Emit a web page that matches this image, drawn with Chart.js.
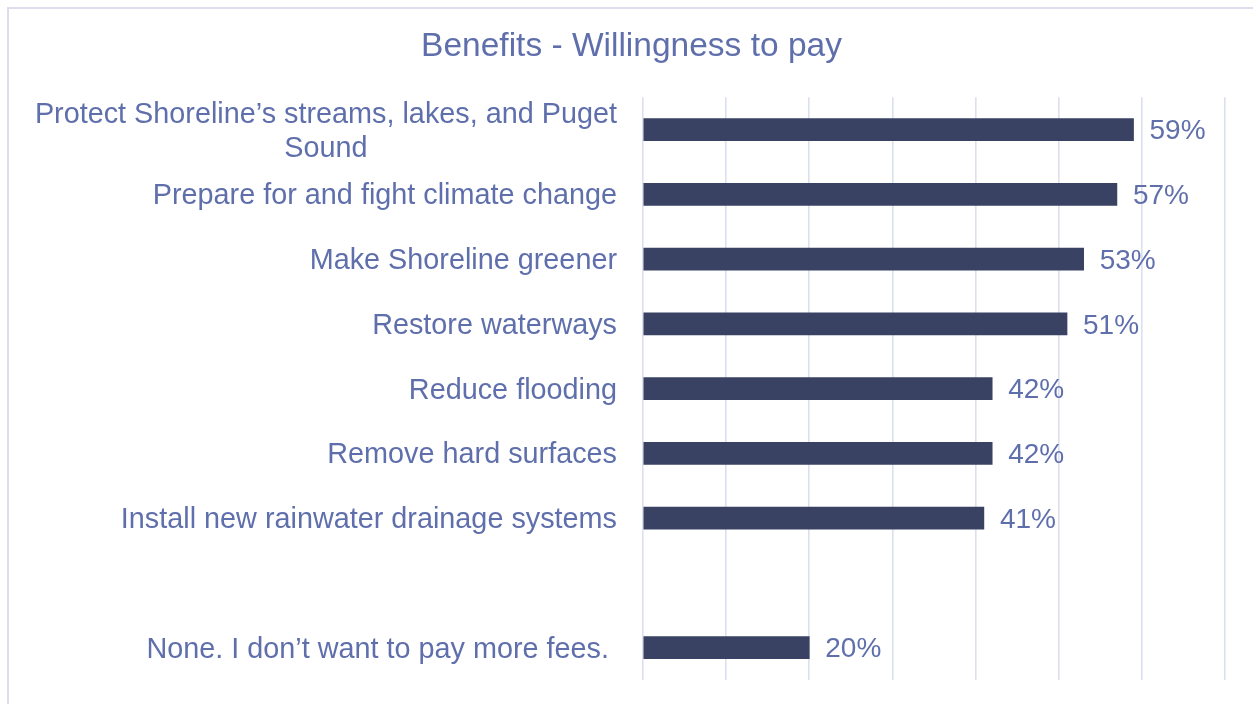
<!DOCTYPE html>
<html>
<head>
<meta charset="utf-8">
<script src="https://cdn.jsdelivr.net/npm/chart.js@4/dist/chart.umd.min.js"></script>
<style>
  html, body { margin: 0; padding: 0; background: #fff; }
  #wrap { position: relative; width: 1253px; height: 704px; }
  #frame { position: absolute; left: 7px; top: 7px; width: 1260px; height: 710px; border: 2px solid #dcdeec; box-sizing: border-box; }
  canvas { position: absolute; left: 0; top: 0; }
</style>
</head>
<body>
<div id="wrap">
  <div id="frame"></div>
  <canvas id="chart" width="1253" height="704"></canvas>
</div>
<script>
// Benefits - willingness to pay (percent of respondents)
const categories = [
    ['Protect Shoreline\u2019s streams, lakes, and Puget', 'Sound'],
    'Prepare for and fight climate change',
    'Make Shoreline greener',
    'Restore waterways',
    'Reduce flooding',
    'Remove hard surfaces',
    'Install new rainwater drainage systems',
    '',
    'None. I don\u2019t want to pay more fees. '
];
const percents = [59, 57, 53, 51, 42, 42, 41, null, 20];
const xTicks = [0, 10, 20, 30, 40, 50, 60, 70];

const textColor = '#5f6fac';
const barColor = '#394263';
const gridColor = '#dcdfee';
const fontFamily = "'Liberation Sans', Arial, sans-serif";
const labelFont = '28.8px ' + fontFamily;
const labelLine = 34;

// category labels: right aligned, wrapped lines centred under the widest one
const categoryLabels = {
    id: 'categoryLabels',
    afterDraw(chart) {
        const ctx = chart.ctx;
        const y = chart.scales.y;
        const right = chart.chartArea.left - 26;
        ctx.save();
        ctx.font = labelFont;
        ctx.fillStyle = textColor;
        ctx.textAlign = 'center';
        ctx.textBaseline = 'middle';
        categories.forEach((lab, i) => {
            const lines = Array.isArray(lab) ? lab : [lab];
            const w = Math.max(...lines.map(l => ctx.measureText(l).width));
            const cy = y.getPixelForTick(i) + 2;
            const y0 = cy - (lines.length - 1) * labelLine / 2;
            lines.forEach((l, k) => ctx.fillText(l, right - w / 2, y0 + k * labelLine));
        });
        ctx.restore();
    }
};

// value labels at the end of each bar
const valueLabels = {
    id: 'valueLabels',
    afterDatasetsDraw(chart) {
        const ctx = chart.ctx;
        const meta = chart.getDatasetMeta(0);
        ctx.save();
        ctx.font = '28px ' + fontFamily;
        ctx.fillStyle = textColor;
        ctx.textAlign = 'left';
        ctx.textBaseline = 'middle';
        meta.data.forEach((bar, i) => {
            const v = percents[i];
            if (v === null) return;
            ctx.fillText(v + '%', bar.x + 16, bar.y + 2);
        });
        ctx.restore();
    }
};

new Chart(document.getElementById('chart'), {
    type: 'bar',
    data: {
        labels: categories,
        datasets: [{
            data: percents,
            backgroundColor: barColor,
            borderWidth: 0,
            barThickness: 22
        }]
    },
    options: {
        indexAxis: 'y',
        responsive: false,
        animation: false,
        layout: { padding: { left: 38, right: 28, top: 0, bottom: 24 } },
        plugins: {
            legend: { display: false },
            tooltip: { enabled: false },
            title: {
                display: true,
                text: 'Benefits - Willingness to pay',
                color: textColor,
                font: { family: fontFamily, size: 33.5, weight: 'normal' },
                padding: { top: 27, bottom: 30 }
            }
        },
        scales: {
            x: {
                min: xTicks[0],
                max: xTicks[xTicks.length - 1],
                afterBuildTicks(scale) {
                    scale.ticks = xTicks.map(v => ({ value: v }));
                },
                afterFit(scale) { scale.height = 0; },
                ticks: { display: false },
                grid: { color: gridColor, lineWidth: 1.6, drawTicks: false },
                border: { display: false }
            },
            y: {
                afterFit(scale) { scale.width = 605; },
                ticks: { display: false },
                grid: { display: false, drawTicks: false },
                border: { display: false }
            }
        }
    },
    plugins: [valueLabels, categoryLabels]
});
</script>
</body>
</html>
